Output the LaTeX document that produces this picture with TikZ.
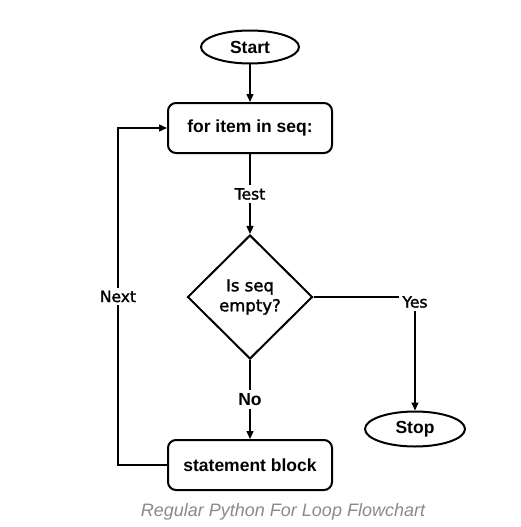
\documentclass[tikz,border=0pt]{standalone}
\usepackage{fontspec}
\setmainfont{Liberation Sans}
\newfontfamily\labelfont[FakeBold=1.6]{DejaVu Sans}
\usetikzlibrary{shapes.geometric,arrows.meta}
\definecolor{captiongray}{HTML}{8A8A8A}
\newcommand\BoxFont{\fontsize{17.5}{20}\selectfont\bfseries}
\newcommand\LabelFont{\labelfont\fontsize{15.5}{19}\selectfont}
\tikzset{
    terminal/.style={ellipse,draw,line width=2pt,minimum width=98pt,minimum height=33pt,font=\BoxFont},
    process/.style={rectangle,rounded corners=8pt,draw,line width=2pt,minimum width=164pt,minimum height=50pt,font=\BoxFont},
    decision/.style={diamond,draw,line width=2pt,minimum width=125pt,minimum height=124pt,inner sep=1pt,align=center,font=\labelfont\fontsize{16.5}{20}\selectfont},
    edgelabel/.style={fill=white,inner sep=3pt,font=\LabelFont},
    flow/.style={line width=1.4pt,-{Triangle[length=8pt,width=7pt]}},
}

\begin{document}
\begin{tikzpicture}[x=1pt,y=-1pt]
    \useasboundingbox (0,0) rectangle (520,527);
    % nodes
    \node[terminal] (start) at (250,47) {Start};
    \node[process] (loop) at (250,128) {for item in seq:};
    \node[decision] (check) at (250,297) {Is seq\\empty?};
    \node[terminal,minimum width=100pt,minimum height=35pt] (stop) at (415,429) {Stop};
    \node[process] (body) at (250,465) {statement block};
    \coordinate (back) at (118,465);
    % connectors
    \draw[flow] (start) -- (loop);
    \draw[flow] (loop) -- node[edgelabel] {Test} (check);
    \draw[flow] (check) -- node[edgelabel,font=\BoxFont] {No} (body);
    \draw[flow] (check.east) -| node[edgelabel,pos=0.5,yshift=-5pt] {Yes} (stop);
    \draw[flow] (body.west) -- (back) |- node[edgelabel,pos=0.25] {Next} (loop.west);
    % caption
    \node[font=\itshape\fontsize{18}{20}\selectfont,text=captiongray] (caption) at (283,512) {Regular Python For Loop Flowchart};
\end{tikzpicture}
\end{document}
